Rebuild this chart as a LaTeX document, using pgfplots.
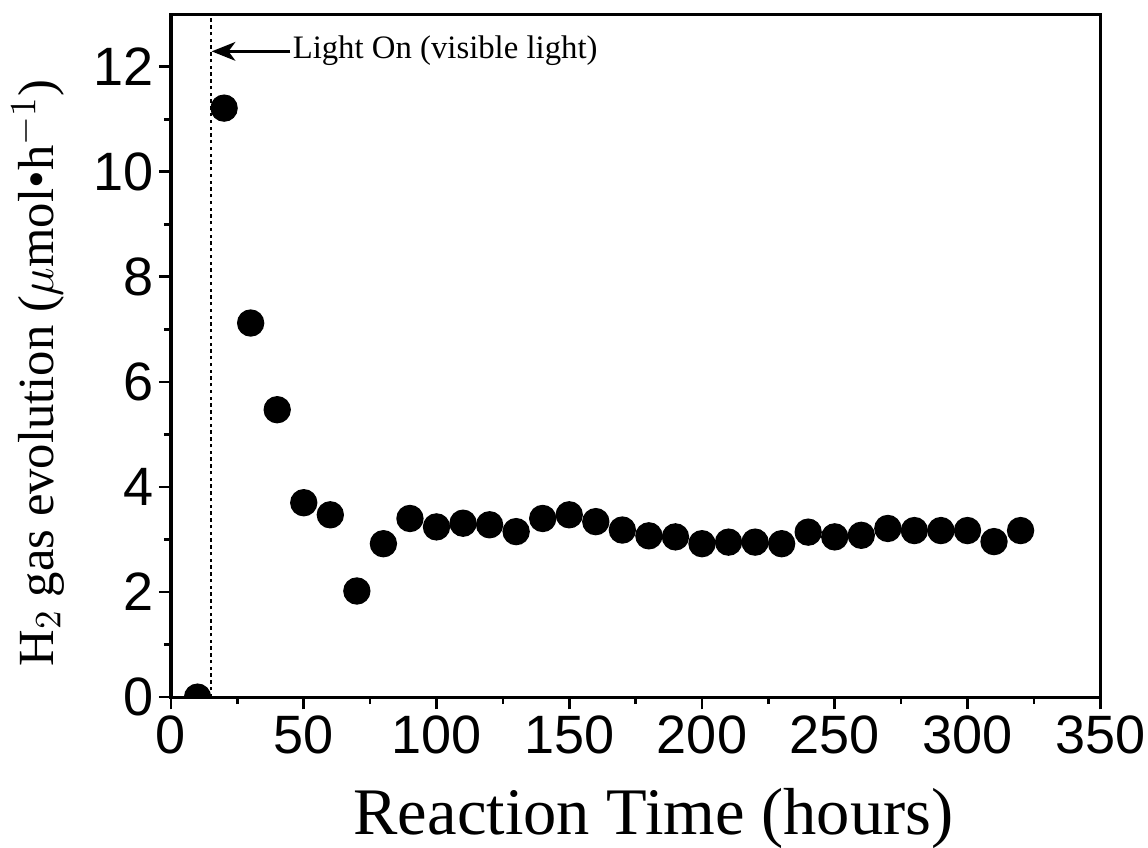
\documentclass[border=0pt]{standalone}
\usepackage{pgfplots}
\pgfplotsset{compat=1.18}
\usetikzlibrary{arrows.meta}
\usepackage{fontspec}
\setmainfont{Liberation Serif}
\newfontfamily\tickfont{Liberation Sans}

\begin{document}
\begin{tikzpicture}
  \begin{axis}[
      name=ax,
      at={(0,0)}, anchor=south west,
      width=275.2pt, height=202.3pt,
      scale only axis,
      xmin=0, xmax=350,
      ymin=0, ymax=13,
      xtick={0,50,...,350},
      ytick={0,2,...,12},
      minor xtick={25,75,...,325},
      minor ytick={1,3,...,11},
      tick align=outside,
      tick pos=left,
      major tick length=3.6pt,
      minor tick length=2.1pt,
      every tick/.style={line width=0.8pt, black},
      axis line style={line width=0.9pt},
      tick label style={font=\tickfont\fontsize{16}{17}\selectfont},
      xticklabel style={yshift=1.5pt},
      yticklabel style={xshift=2pt},
      /pgf/number format/assume math mode=true,
      xlabel={Reaction Time (hours)},
      ylabel={H$_2$ gas evolution ($\mu$mol\textbullet h$^{-1}$)},
      xlabel style={font=\fontsize{19.7}{20}\selectfont,
        at={(axis description cs:0.5,0)}, anchor=base,
        xshift=5.3pt, yshift=-40.6pt},
      ylabel style={font=\fontsize{15}{16}\selectfont,
        at={(axis description cs:0,0.5)}, anchor=base,
        xshift=-5.2pt, yshift=34.95pt},
      clip marker paths=true,
    ]
    % light switched on
    \addplot[dash pattern=on 1pt off 1pt, line width=0.45pt] coordinates {(15,0) (15,13)};
    \draw[-{Stealth[length=7pt, width=5.5pt, inset=2pt]}, line width=1pt]
      (axis cs:45,12.29) -- (axis cs:15.3,12.29);
    \node[anchor=west, inner sep=0pt, font=\fontsize{9.7}{10}\selectfont]
      at (axis cs:45.6,12.31) {Light On (visible light)};

    \addplot[only marks, mark=*, mark size=3.85pt, black] coordinates {
      (10,0.00) (20,11.21) (30,7.12) (40,5.47) (50,3.70) (60,3.47)
      (70,2.02) (80,2.92) (90,3.40) (100,3.24) (110,3.31) (120,3.28)
      (130,3.15) (140,3.40) (150,3.47) (160,3.34) (170,3.18) (180,3.07)
      (190,3.05) (200,2.92) (210,2.95) (220,2.95) (230,2.92) (240,3.14)
      (250,3.05) (260,3.08) (270,3.21) (280,3.17) (290,3.17) (300,3.17)
      (310,2.96) (320,3.17)
    };
  \end{axis}
  \pgfresetboundingbox
  \path (-50.65pt,-44.43pt) rectangle ++(340pt,250.9pt);
\end{tikzpicture}
\end{document}
